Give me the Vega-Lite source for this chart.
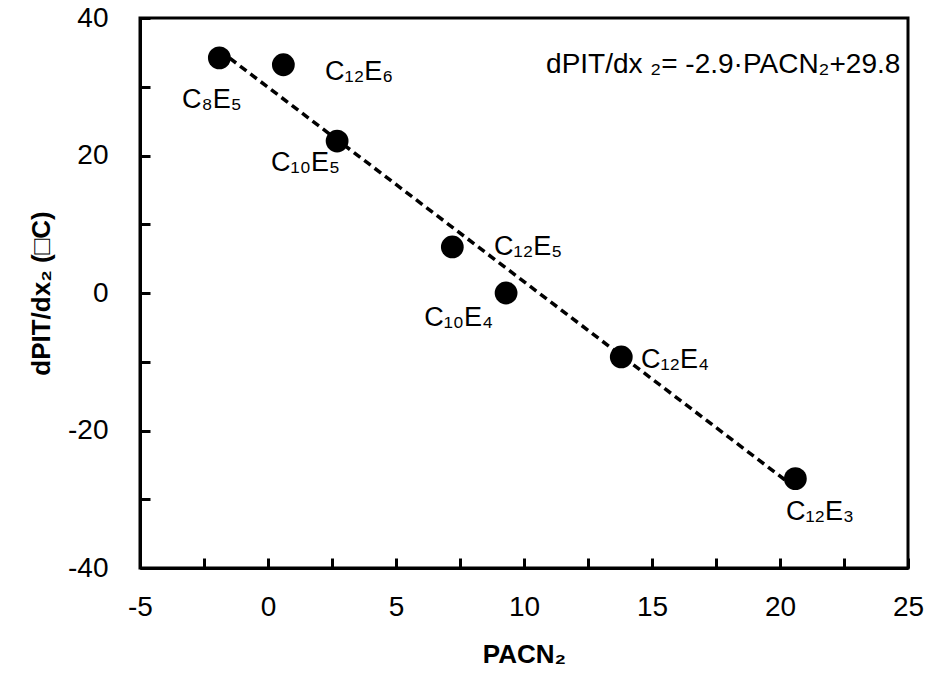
{
  "$schema": "https://vega.github.io/schema/vega-lite/v6.json",
  "width": 768,
  "height": 550,
  "autosize": "none",
  "padding": {"left": 140, "top": 18, "right": 21, "bottom": 123},
  "background": "white",
  "config": {
    "view": {"stroke": "black", "strokeWidth": 3},
    "font": "Liberation Sans, DejaVu Sans",
    "axis": {
      "grid": false,
      "domainColor": "black",
      "domainWidth": 3,
      "tickColor": "black",
      "tickWidth": 3,
      "tickSize": -10,
      "labelFlush": false,
      "labelOverlap": false,
      "labelFont": "Liberation Sans, DejaVu Sans",
      "labelFontSize": 28,
      "labelColor": "black",
      "titleFont": "Liberation Sans, DejaVu Sans",
      "titleFontSize": 26,
      "titleFontWeight": "bold",
      "titleColor": "black"
    }
  },
  "datasets": {
    "pts": [
      {"x": -1.9, "y": 34.2, "name": "C₈E₅", "lx": -3.36, "ly": 28.1},
      {"x": 0.6, "y": 33.2, "name": "C₁₂E₆", "lx": 2.23, "ly": 32.1},
      {"x": 2.7, "y": 22.1, "name": "C₁₀E₅", "lx": 0.12, "ly": 18.9},
      {"x": 7.2, "y": 6.7, "name": "C₁₂E₅", "lx": 8.83, "ly": 6.7},
      {"x": 9.3, "y": 0.0, "name": "C₁₀E₄", "lx": 6.1, "ly": -3.6},
      {"x": 13.8, "y": -9.3, "name": "C₁₂E₄", "lx": 14.57, "ly": -9.7},
      {"x": 20.6, "y": -27.0, "name": "C₁₂E₃", "lx": 20.23, "ly": -31.9}
    ],
    "fit": [
      {"x": -1.9, "y": 35.3},
      {"x": 20.2, "y": -27.2}
    ],
    "eq": [
      {"x": 24.7, "y": 33.2, "t": "dPIT/dx ₂= -2.9·PACN₂+29.8"}
    ]
  },
  "layer": [
    {
      "data": {"name": "fit"},
      "mark": {"type": "line", "color": "black", "strokeWidth": 3.5, "strokeDash": [8, 5]},
      "encoding": {
        "x": {
          "field": "x", "type": "quantitative",
          "scale": {"domain": [-5, 25], "nice": false},
          "axis": {
            "title": "PACN₂",
            "values": [-5, -2.5, 0, 2.5, 5, 7.5, 10, 12.5, 15, 17.5, 20, 22.5, 25],
            "labelExpr": "datum.value % 5 === 0 ? toString(datum.value) : ''",
            "labelPadding": 35,
            "titlePadding": 20
          }
        },
        "y": {
          "field": "y", "type": "quantitative",
          "scale": {"domain": [-40, 40], "nice": false},
          "axis": {
            "title": "dPIT/dx₂ (□C)",
            "values": [-40, -30, -20, -10, 0, 10, 20, 30, 40],
            "labelExpr": "datum.value % 20 === 0 ? toString(datum.value) : ''",
            "labelPadding": 42,
            "titlePadding": 13
          }
        }
      }
    },
    {
      "data": {"name": "pts"},
      "mark": {"type": "point", "filled": true, "color": "black", "opacity": 1, "size": 520, "shape": "circle"},
      "encoding": {
        "x": {"field": "x", "type": "quantitative"},
        "y": {"field": "y", "type": "quantitative"}
      }
    },
    {
      "data": {"name": "pts"},
      "mark": {"type": "text", "align": "left", "baseline": "middle", "fontSize": 27, "color": "black", "font": "Liberation Sans, DejaVu Sans"},
      "encoding": {
        "x": {"field": "lx", "type": "quantitative"},
        "y": {"field": "ly", "type": "quantitative"},
        "text": {"field": "name"}
      }
    },
    {
      "data": {"name": "eq"},
      "mark": {"type": "text", "align": "right", "baseline": "middle", "fontSize": 28, "color": "black", "font": "Liberation Sans, DejaVu Sans"},
      "encoding": {
        "x": {"field": "x", "type": "quantitative"},
        "y": {"field": "y", "type": "quantitative"},
        "text": {"field": "t"}
      }
    }
  ]
}
